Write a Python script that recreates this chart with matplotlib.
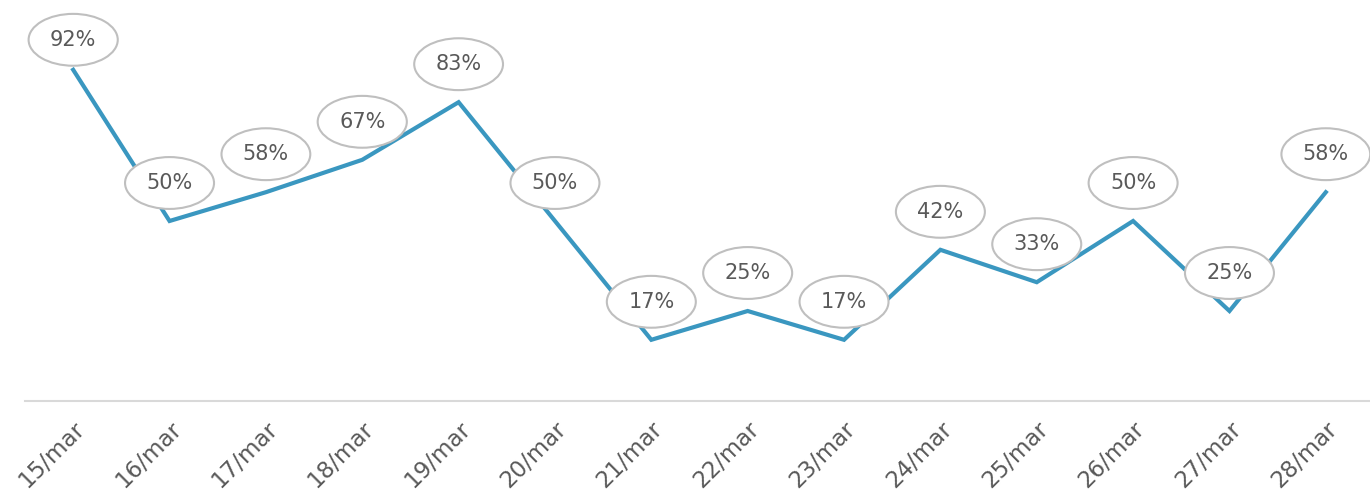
import matplotlib.pyplot as plt

# datos
fechas = ['15/mar', '16/mar', '17/mar', '18/mar', '19/mar', '20/mar', '21/mar',
          '22/mar', '23/mar', '24/mar', '25/mar', '26/mar', '27/mar', '28/mar']
porcentajes = [92, 50, 58, 67, 83, 50, 17, 25, 17, 42, 33, 50, 25, 58]

c_linea = '#3A97C0'
c_texto = '#595959'
c_borde = '#BFBFBF'

fig = plt.figure(figsize=(13.7, 4.91), dpi=100)
ax = fig.add_axes([25 / 1370, 1 - 401 / 491, 1349 / 1370, (401 - 41) / 491])

x = list(range(len(fechas)))
ax.plot(x, porcentajes, color=c_linea, linewidth=3, solid_joinstyle='miter', zorder=2)

# etiquetas en elipses
for xi, v in zip(x, porcentajes):
    off = 30 if v > 90 else 38
    ax.annotate(f'{v}%', (xi, v), xytext=(0, off), textcoords='offset pixels',
                ha='center', va='center', fontsize=15, color=c_texto, zorder=3,
                annotation_clip=False,
                bbox=dict(boxstyle='ellipse,pad=0.4', fc='white', ec=c_borde, lw=1.5))

ax.set_xlim(-0.5, 13.5)
ax.set_ylim(0, 100)
ax.set_yticks([])
ax.set_xticks(x)
ax.set_xticklabels(fechas, rotation=45, ha='right', va='top', rotation_mode='anchor',
                   fontsize=16.5, color=c_texto)
ax.tick_params(axis='x', length=0, pad=12)

for s in ['top', 'right', 'left']:
    ax.spines[s].set_visible(False)
ax.spines['bottom'].set_color('#D9D9D9')
ax.spines['bottom'].set_linewidth(1.5)

fig.savefig('out.png', dpi=100)
